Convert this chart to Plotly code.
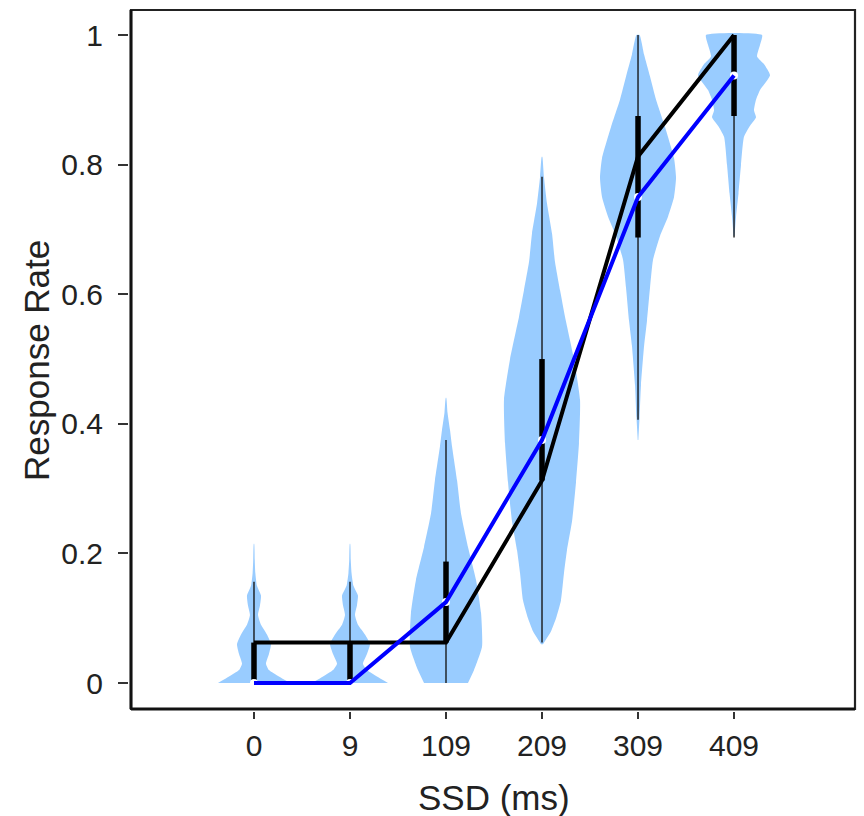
import plotly.graph_objects as go

# ---------------- data ----------------
ssd_labels = ["0", "9", "109", "209", "309", "409"]
observed = [0.0625, 0.0625, 0.0625, 0.3125, 0.8125, 1.0]
predicted = [0.0, 0.0, 0.125, 0.375, 0.75, 0.9375]
iqr_low = [0.0, 0.0, 0.0625, 0.3125, 0.6875, 0.875]
iqr_high = [0.0625, 0.0625, 0.1875, 0.5, 0.875, 1.0]
whisk_low = [0.0, 0.0, 0.0, 0.0625, 0.40625, 0.6875]
whisk_high = [0.15625, 0.15625, 0.375, 0.78125, 1.0, 1.0]

# violin density profiles: response-rate levels and half-widths (category units)
v0_levels = [0.0, 0.01, 0.02, 0.03, 0.045, 0.06, 0.075, 0.09, 0.105, 0.12, 0.135, 0.15, 0.17, 0.19, 0.215]
v0_width = [0.375, 0.26, 0.156, 0.125, 0.156, 0.177, 0.135, 0.073, 0.042, 0.063, 0.073, 0.031, 0.014, 0.008, 0.002]
v1_levels = [0.0, 0.01, 0.02, 0.03, 0.045, 0.06, 0.075, 0.09, 0.105, 0.12, 0.135, 0.15, 0.17, 0.19, 0.215]
v1_width = [0.396, 0.281, 0.177, 0.135, 0.177, 0.208, 0.156, 0.083, 0.052, 0.073, 0.083, 0.036, 0.016, 0.008, 0.002]
v2_levels = [0.0, 0.02, 0.056, 0.108, 0.159, 0.21, 0.262, 0.313, 0.365, 0.39, 0.417, 0.44]
v2_width = [0.229, 0.292, 0.375, 0.365, 0.313, 0.229, 0.156, 0.115, 0.063, 0.042, 0.016, 0.003]
v3_levels = [0.06, 0.08, 0.1, 0.128, 0.17, 0.205, 0.25, 0.31, 0.37, 0.437, 0.5, 0.565, 0.606, 0.65, 0.694, 0.74, 0.78, 0.812]
v3_width = [0.01, 0.094, 0.146, 0.198, 0.229, 0.26, 0.313, 0.354, 0.385, 0.396, 0.333, 0.24, 0.188, 0.135, 0.104, 0.052, 0.021, 0.003]
v4_levels = [0.375, 0.41, 0.46, 0.52, 0.56, 0.61, 0.653, 0.69, 0.72, 0.75, 0.78, 0.81, 0.858, 0.9, 0.936, 0.97, 1.0]
v4_width = [0.003, 0.016, 0.031, 0.063, 0.094, 0.125, 0.156, 0.229, 0.313, 0.375, 0.396, 0.375, 0.281, 0.188, 0.125, 0.063, 0.016]
v5_levels = [0.69, 0.72, 0.756, 0.8, 0.843, 0.86, 0.873, 0.884, 0.9, 0.915, 0.938, 0.955, 0.967, 0.985, 1.0]
v5_width = [0.005, 0.021, 0.047, 0.073, 0.104, 0.167, 0.229, 0.208, 0.229, 0.271, 0.375, 0.313, 0.24, 0.271, 0.292]

y_ticks = [0, 0.2, 0.4, 0.6, 0.8, 1.0]
y_ticktext = ["0", "0.2", "0.4", "0.6", "0.8", "1"]

profiles = [(v0_levels, v0_width), (v1_levels, v1_width), (v2_levels, v2_width),
            (v3_levels, v3_width), (v4_levels, v4_width), (v5_levels, v5_width)]

VIOLIN_COLOR = "#99CCFF"
FONT = "Liberation Sans, Arial, Helvetica, sans-serif"
TXT = "#222222"

fig = go.Figure()

# violins
for i, (lev, wid) in enumerate(profiles):
    xs = [i + w for w in wid] + [i - w for w in reversed(wid)]
    ys = list(lev) + list(reversed(lev))
    fig.add_trace(go.Scatter(x=xs, y=ys, mode="lines", fill="toself",
                             fillcolor=VIOLIN_COLOR, line=dict(width=0, color=VIOLIN_COLOR, shape="spline", smoothing=0.5),
                             hoverinfo="skip", showlegend=False))

# whiskers
wx, wy = [], []
for i in range(len(ssd_labels)):
    wx += [i, i, None]
    wy += [whisk_low[i], whisk_high[i], None]
fig.add_trace(go.Scatter(x=wx, y=wy, mode="lines", line=dict(color="rgba(20,20,20,0.85)", width=1.6),
                         hoverinfo="skip", showlegend=False))

# IQR bars
bx, by = [], []
for i in range(len(ssd_labels)):
    bx += [i, i, None]
    by += [iqr_low[i], iqr_high[i], None]
fig.add_trace(go.Scatter(x=bx, y=by, mode="lines", line=dict(color="black", width=5.5),
                         hoverinfo="skip", showlegend=False))

# medians (white points)
fig.add_trace(go.Scatter(x=list(range(len(ssd_labels))), y=predicted, mode="markers",
                         marker=dict(color="white", size=8, line=dict(width=0)),
                         hoverinfo="skip", showlegend=False))

# observed data line
fig.add_trace(go.Scatter(x=list(range(len(ssd_labels))), y=observed, mode="lines",
                         line=dict(color="black", width=4), showlegend=False))

# model prediction line
fig.add_trace(go.Scatter(x=list(range(len(ssd_labels))), y=predicted, mode="lines",
                         line=dict(color="#0000FF", width=4), showlegend=False))

W, H = 864, 816
ML, MR, MT, MB = 128, 9, 10, 105
pw = W - ML - MR
ph = H - MT - MB

fig.update_layout(
    width=W, height=H,
    margin=dict(l=ML, r=MR, t=MT, b=MB, pad=0),
    paper_bgcolor="white", plot_bgcolor="white",
    showlegend=False,
    xaxis=dict(range=[-1.281, 6.26], domain=[3 / pw, 1], anchor="free", position=0,
               tickvals=list(range(len(ssd_labels))), ticktext=ssd_labels,
               ticks="outside", ticklen=7, tickwidth=1.5, tickcolor="#333333",
               showline=False, showgrid=False, zeroline=False,
               tickfont=dict(family=FONT, size=30, color=TXT), ticklabelstandoff=1),
    yaxis=dict(range=[-0.04, 1.0386], domain=[2 / ph, 1], anchor="free", position=0,
               tickvals=y_ticks, ticktext=y_ticktext,
               ticks="outside", ticklen=10, tickwidth=1.5, tickcolor="#333333",
               showline=False, showgrid=False, zeroline=False,
               tickfont=dict(family=FONT, size=30, color=TXT), ticklabelstandoff=9),
    shapes=[
        dict(type="rect", xref="x domain", yref="y domain", x0=0, x1=1, y0=0, y1=1,
             line=dict(color="#222222", width=2.2), fillcolor="rgba(0,0,0,0)", layer="above"),
        dict(type="line", xref="x domain", yref="y domain", x0=0, x1=0, y0=0, y1=1,
             line=dict(color="#111111", width=3), layer="above"),
        dict(type="line", xref="x domain", yref="y domain", x0=0, x1=1, y0=0, y1=0,
             line=dict(color="#111111", width=3), layer="above"),
    ],
    annotations=[
        dict(text="SSD (ms)", xref="paper", yref="paper",
             x=(494 - ML) / pw, y=(H - MB - 797) / ph, xanchor="center", yanchor="middle",
             showarrow=False, font=dict(family=FONT, size=35, color=TXT)),
        dict(text="Response Rate", xref="paper", yref="paper", textangle=-90,
             x=(36 - ML) / pw, y=(H - MB - 360) / ph, xanchor="center", yanchor="middle",
             showarrow=False, font=dict(family=FONT, size=35, color=TXT)),
    ],
)

fig.write_html("out.html")
